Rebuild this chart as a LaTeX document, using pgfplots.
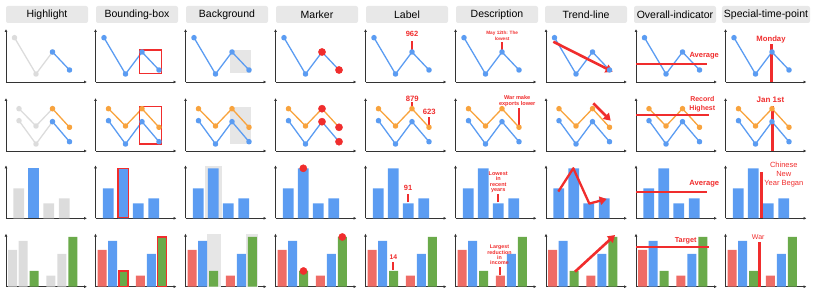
\documentclass[border=0pt]{standalone}
\usepackage{fontspec}
\setmainfont{Liberation Sans}
\usepackage{pgfplots}
\pgfplotsset{compat=1.18}
\usetikzlibrary{arrows.meta}
\definecolor{cblue}{HTML}{5B9CF2}
\definecolor{corange}{HTML}{F8A33D}
\definecolor{cgray}{HTML}{DCDCDC}
\definecolor{cbg}{HTML}{E6E6E6}
\definecolor{cred}{HTML}{F02D2D}
\definecolor{cbred}{HTML}{EF6C66}
\definecolor{cgreen}{HTML}{6AAA4A}
\definecolor{hdrgray}{HTML}{E8E8E8}
\newcommand{\fs}[2]{\fontsize{#1}{#2}\selectfont}
\pgfplotsset{
 cell/.style={scale only axis, width=81pt, height=53pt, xmin=0, xmax=81, ymin=0, ymax=53,
   axis x line=bottom, axis y line=left, ticks=none, clip=false, anchor=south west,
   axis line style={line width=0.9pt, black!80, -{Latex[length=3pt,width=3pt]}}},
 ln/.style={color=#1, line width=1.3pt, line join=round, mark=*, mark size=2.1pt, mark options={draw=none, fill=#1}},
 b3/.style={ybar, bar shift=0pt, bar width=10.8, fill=#1, draw=none, mark=none},
 b4/.style={ybar, bar shift=0pt, bar width=9, fill=#1, draw=none, mark=none},
 rmark/.style={only marks, mark=*, mark size=3.6pt, color=cred, mark options={draw=none, fill=cred}},
 aline/.style={cred, line width=2pt, mark=none},
 vline/.style={cred, line width=2.3pt, mark=none},
 hline/.style={cred, line width=2pt, mark=none},
 box/.style={draw=cred, line width=1.2pt, fill=none, mark=none},
 bg/.style={fill=cbg, draw=none, mark=none},
 arr/.style={cred, line width=2.6pt, mark=none, line join=round, -{Triangle[length=7pt,width=8.5pt]}},
}
\tikzset{ann/.style={text=cred, inner sep=0pt, align=center}}
\begin{document}
\begin{tikzpicture}
\useasboundingbox (0pt,0pt) rectangle (814pt,297pt);
\tikzset{hdr/.style={fill=hdrgray, rounded corners=2pt, minimum width=82pt, minimum height=17pt, inner xsep=2pt, inner ysep=0pt, font=\fs{10.5}{12}}}
\node[hdr] at (47pt,282.5pt) {Highlight};
\node[hdr] at (137pt,282.5pt) {Bounding-box};
\node[hdr] at (227pt,282.5pt) {Background};
\node[hdr] at (317pt,282.5pt) {Marker};
\node[hdr] at (407pt,282.5pt) {Label};
\node[hdr] at (497pt,282.5pt) {Description};
\node[hdr] at (586pt,282.5pt) {Trend-line};
\node[hdr] at (675pt,282.5pt) {Overall-indicator};
\node[hdr] at (766pt,282.5pt) {Special-time-point};

%% ROW 1
\begin{axis}[cell, at={(6pt,215pt)}]
\addplot[ln=cgray] coordinates {(8.5,44.3) (30,8) (46.5,30)};
\addplot[ln=cblue] coordinates {(46.5,30) (63.5,12)};
\end{axis}
\begin{axis}[cell, at={(95.5pt,215pt)}]
\addplot[ln=cblue] coordinates {(8.5,44.3) (30,8) (46.5,30) (63.5,12)};
\addplot[box] coordinates {(44.3,8.7) (65.7,8.7) (65.7,32) (44.3,32)} -- cycle;
\end{axis}
\begin{axis}[cell, at={(185.5pt,215pt)}]
\addplot[bg] coordinates {(44,9.3) (65,9.3) (65,32) (44,32)} -- cycle;
\addplot[ln=cblue] coordinates {(8.5,44.3) (30,8) (46.5,30) (63.5,12)};
\end{axis}
\begin{axis}[cell, at={(275.5pt,215pt)}]
\addplot[ln=cblue] coordinates {(8.5,44.3) (30,8) (46.5,30) (63.5,12)};
\addplot[rmark] coordinates {(46.5,30) (63.5,12)};
\end{axis}
\begin{axis}[cell, at={(365.5pt,215pt)}]
\addplot[ln=cblue] coordinates {(8.5,44.3) (30,8) (46.5,30) (63.5,12)};
\addplot[aline] coordinates {(46.5,32) (46.5,41)};
\node[ann, font=\fs{7.5}{9}\bfseries] at (axis cs:46.5,47.7) {962};
\end{axis}
\begin{axis}[cell, at={(455.5pt,215pt)}]
\addplot[ln=cblue] coordinates {(8.5,44.3) (30,8) (46.5,30) (63.5,12)};
\addplot[aline] coordinates {(46.5,32) (46.5,40.3)};
\node[ann, font=\fs{4.7}{5.7}\bfseries] at (axis cs:46.7,45.85) {May 12th: The\\lowest};
\end{axis}
\begin{axis}[cell, at={(546pt,215pt)}]
\addplot[ln=cblue] coordinates {(8.5,44.3) (30,8) (46.5,30) (63.5,12)};
\addplot[arr] coordinates {(7.3,40.3) (66.7,10.3)};
\end{axis}
\begin{axis}[cell, at={(636pt,215pt)}]
\addplot[ln=cblue] coordinates {(8.5,44.3) (30,8) (46.5,30) (63.5,12)};
\addplot[hline] coordinates {(0,18) (70.7,18)};
\node[ann, font=\fs{7.5}{9}\bfseries] at (axis cs:68.2,26) {Average};
\end{axis}
\begin{axis}[cell, at={(725.5pt,215pt)}]
\addplot[ln=cblue] coordinates {(8.5,44.3) (30,8) (46.5,30) (63.5,12)};
\addplot[vline] coordinates {(46,0) (46,37.7)};
\node[ann, font=\fs{7.7}{9}\bfseries] at (axis cs:45.5,42.7) {Monday};
\end{axis}

%% ROW 2
\begin{axis}[cell, at={(6pt,146pt)}]
\addplot[ln=cgray] coordinates {(13,42.3) (30,25) (46.5,42.3)};
\addplot[ln=cgray] coordinates {(13,30.3) (30,7) (46.5,29.3)};
\addplot[ln=corange] coordinates {(46.5,42.3) (63.5,23.7)};
\addplot[ln=cblue] coordinates {(46.5,29.3) (63.5,9.3)};
\end{axis}
\begin{axis}[cell, at={(95.5pt,146pt)}]
\addplot[ln=corange] coordinates {(13,42.3) (30,25) (46.5,42.3) (63.5,23.7)};
\addplot[ln=cblue] coordinates {(13,30.3) (30,7) (46.5,29.3) (63.5,9.3)};
\addplot[box] coordinates {(44.3,7) (66.3,7) (66.3,44.3) (44.3,44.3)} -- cycle;
\end{axis}
\begin{axis}[cell, at={(185.5pt,146pt)}]
\addplot[bg] coordinates {(44,7) (65,7) (65,43.7) (44,43.7)} -- cycle;
\addplot[ln=corange] coordinates {(13,42.3) (30,25) (46.5,42.3) (63.5,23.7)};
\addplot[ln=cblue] coordinates {(13,30.3) (30,7) (46.5,29.3) (63.5,9.3)};
\end{axis}
\begin{axis}[cell, at={(275.5pt,146pt)}]
\addplot[ln=corange] coordinates {(13,42.3) (30,25) (46.5,42.3) (63.5,23.7)};
\addplot[ln=cblue] coordinates {(13,30.3) (30,7) (46.5,29.3) (63.5,9.3)};
\addplot[rmark] coordinates {(46.5,42.3) (63.5,23.7) (46.5,29.3) (63.5,9.3)};
\end{axis}
\begin{axis}[cell, at={(365.5pt,146pt)}]
\addplot[ln=corange] coordinates {(13,42.3) (30,25) (46.5,42.3) (63.5,23.7)};
\addplot[ln=cblue] coordinates {(13,30.3) (30,7) (46.5,29.3) (63.5,9.3)};
\addplot[aline] coordinates {(46.5,44) (46.5,48.7)};
\addplot[aline] coordinates {(63.7,25.5) (63.7,34.3)};
\node[ann, font=\fs{7.7}{9}\bfseries] at (axis cs:46.8,52.3) {879};
\node[ann, font=\fs{7.7}{9}\bfseries] at (axis cs:63.7,38.7) {623};
\end{axis}
\begin{axis}[cell, at={(455.5pt,146pt)}]
\addplot[ln=corange] coordinates {(13,42.3) (30,25) (46.5,42.3) (63.5,23.7)};
\addplot[ln=cblue] coordinates {(13,30.3) (30,7) (46.5,29.3) (63.5,9.3)};
\addplot[aline] coordinates {(63,25) (63,43.3)};
\node[ann, font=\fs{5.6}{5.7}\bfseries] at (axis cs:61.7,49.85) {War make\\exports lower};
\end{axis}
\begin{axis}[cell, at={(546pt,146pt)}]
\addplot[ln=corange] coordinates {(13,42.3) (30,25) (46.5,42.3) (63.5,23.7)};
\addplot[ln=cblue] coordinates {(13,30.3) (30,7) (46.5,29.3) (63.5,9.3)};
\addplot[arr] coordinates {(47.3,47.7) (64.7,30.3)};
\end{axis}
\begin{axis}[cell, at={(636pt,146pt)}]
\addplot[ln=corange] coordinates {(13,42.3) (30,25) (46.5,42.3) (63.5,23.7)};
\addplot[ln=cblue] coordinates {(13,30.3) (30,7) (46.5,29.3) (63.5,9.3)};
\addplot[hline] coordinates {(0,36) (73,36)};
\node[ann, font=\fs{7}{8.3}\bfseries] at (axis cs:66.3,46.85) {Record\\Highest};
\end{axis}
\begin{axis}[cell, at={(725.5pt,146pt)}]
\addplot[ln=corange] coordinates {(13,42.3) (30,25) (46.5,42.3) (63.5,23.7)};
\addplot[ln=cblue] coordinates {(13,30.3) (30,7) (46.5,29.3) (63.5,9.3)};
\addplot[vline] coordinates {(47,0) (47,45)};
\node[ann, font=\fs{8}{9}\bfseries] at (axis cs:45,51) {Jan 1st};
\end{axis}

%% ROW 3
\begin{axis}[cell, at={(6pt,78.7pt)}]
\addplot[b3=cgray] coordinates {(12.7,30) (42.8,15) (58.3,20)};
\addplot[b3=cblue] coordinates {(27.8,50)};
\end{axis}
\begin{axis}[cell, at={(95.5pt,78.7pt)}]
\addplot[b3=cblue] coordinates {(12.7,30) (27.8,50) (42.8,15) (58.3,20)};
\addplot[box] coordinates {(22.4,0.4) (33.2,0.4) (33.2,50) (22.4,50)} -- cycle;
\end{axis}
\begin{axis}[cell, at={(185.5pt,78.7pt)}]
\addplot[bg] coordinates {(19,0) (36.7,0) (36.7,52.5) (19,52.5)} -- cycle;
\addplot[b3=cblue] coordinates {(12.7,30) (27.8,50) (42.8,15) (58.3,20)};
\end{axis}
\begin{axis}[cell, at={(275.5pt,78.7pt)}]
\addplot[b3=cblue] coordinates {(12.7,30) (27.8,50) (42.8,15) (58.3,20)};
\addplot[rmark] coordinates {(27.8,50)};
\end{axis}
\begin{axis}[cell, at={(365.5pt,78.7pt)}]
\addplot[b3=cblue] coordinates {(12.7,30) (27.8,50) (42.8,15) (58.3,20)};
\addplot[aline] coordinates {(42.5,16) (42.5,24.3)};
\node[ann, font=\fs{7.5}{9}\bfseries] at (axis cs:42.5,30) {91};
\end{axis}
\begin{axis}[cell, at={(455.5pt,78.7pt)}]
\addplot[b3=cblue] coordinates {(12.7,30) (27.8,50) (42.8,15) (58.3,20)};
\addplot[aline] coordinates {(42.3,16) (42.3,24)};
\node[ann, font=\fs{5.5}{5.4}\bfseries] at (axis cs:42.7,36.3) {Lowest\\in\\recent\\years};
\end{axis}
\begin{axis}[cell, at={(546pt,78.7pt)}]
\addplot[b3=cblue] coordinates {(12.7,30) (27.8,50) (42.8,15) (58.3,20)};
\addplot[arr, line width=2.3pt] coordinates {(12.3,26.7) (27.3,50) (43.3,14.7) (60.7,19.3)};
\end{axis}
\begin{axis}[cell, at={(636pt,78.7pt)}]
\addplot[b3=cblue] coordinates {(12.7,30) (27.8,50) (42.8,15) (58.3,20)};
\addplot[hline] coordinates {(0,26) (70.7,26)};
\node[ann, font=\fs{7.6}{9}\bfseries] at (axis cs:68.3,34.3) {Average};
\end{axis}
\begin{axis}[cell, at={(725.5pt,78.7pt)}]
\addplot[b3=cblue] coordinates {(12.7,30) (27.8,50) (42.8,15) (58.3,20)};
\addplot[vline] coordinates {(36,0) (36,46.7)};
\node[ann, font=\fs{7.5}{8.6}] at (axis cs:58.3,43.8) {Chinese\\New\\Year Began};
\end{axis}

%% ROW 4
\begin{axis}[cell, at={(6pt,10.3pt)}]
\addplot[b4=cgray] coordinates {(6.6,36.7) (17.2,45.7) (44.8,11) (55.8,32.7)};
\addplot[b4=cgreen] coordinates {(28,15.7) (66.8,49.7)};
\end{axis}
\begin{axis}[cell, at={(95.5pt,10.3pt)}]
\addplot[b4=cbred] coordinates {(6.6,36.7) (44.8,11)};
\addplot[b4=cblue] coordinates {(17.2,45.7) (55.8,32.7)};
\addplot[b4=cgreen] coordinates {(28,15.7) (66.8,49.7)};
\addplot[box] coordinates {(23.5,0.4) (32.5,0.4) (32.5,15.7) (23.5,15.7)} -- cycle;
\addplot[box] coordinates {(62.3,0.4) (71.3,0.4) (71.3,49.7) (62.3,49.7)} -- cycle;
\end{axis}
\begin{axis}[cell, at={(185.5pt,10.3pt)}]
\addplot[bg] coordinates {(21.7,0) (35,0) (35,53) (21.7,53)} -- cycle;
\addplot[bg] coordinates {(60,0) (72.7,0) (72.7,53) (60,53)} -- cycle;
\addplot[b4=cbred] coordinates {(6.6,36.7) (44.8,11)};
\addplot[b4=cblue] coordinates {(17.2,45.7) (55.8,32.7)};
\addplot[b4=cgreen] coordinates {(28,15.7) (66.8,49.7)};
\end{axis}
\begin{axis}[cell, at={(275.5pt,10.3pt)}]
\addplot[b4=cbred] coordinates {(6.6,36.7) (44.8,11)};
\addplot[b4=cblue] coordinates {(17.2,45.7) (55.8,32.7)};
\addplot[b4=cgreen] coordinates {(28,15.7) (66.8,49.7)};
\addplot[rmark] coordinates {(28,15.7) (66.8,49.7)};
\end{axis}
\begin{axis}[cell, at={(365.5pt,10.3pt)}]
\addplot[b4=cbred] coordinates {(6.6,36.7) (44.8,11)};
\addplot[b4=cblue] coordinates {(17.2,45.7) (55.8,32.7)};
\addplot[b4=cgreen] coordinates {(28,15.7) (66.8,49.7)};
\addplot[aline] coordinates {(27.8,16.5) (27.8,24.3)};
\node[ann, font=\fs{6.8}{8}\bfseries] at (axis cs:27.8,30) {14};
\end{axis}
\begin{axis}[cell, at={(455.5pt,10.3pt)}]
\addplot[b4=cbred] coordinates {(6.6,36.7) (44.8,11)};
\addplot[b4=cblue] coordinates {(17.2,45.7) (55.8,32.7)};
\addplot[b4=cgreen] coordinates {(28,15.7) (66.8,49.7)};
\addplot[aline] coordinates {(44.3,11.5) (44.3,19.3)};
\node[ann, font=\fs{5.3}{5.3}\bfseries] at (axis cs:44,31.75) {Largest\\reduction\\in\\income};
\end{axis}
\begin{axis}[cell, at={(546pt,10.3pt)}]
\addplot[b4=cbred] coordinates {(6.6,36.7) (44.8,11)};
\addplot[b4=cblue] coordinates {(17.2,45.7) (55.8,32.7)};
\addplot[b4=cgreen] coordinates {(28,15.7) (66.8,49.7)};
\addplot[arr] coordinates {(29,15) (69,51.7)};
\end{axis}
\begin{axis}[cell, at={(636pt,10.3pt)}]
\addplot[b4=cbred] coordinates {(6.6,36.7) (44.8,11)};
\addplot[b4=cblue] coordinates {(17.2,45.7) (55.8,32.7)};
\addplot[b4=cgreen] coordinates {(28,15.7) (66.8,49.7)};
\addplot[hline] coordinates {(0,39.3) (73,39.3)};
\node[ann, font=\fs{7.3}{9}\bfseries] at (axis cs:49.7,46) {Target};
\end{axis}
\begin{axis}[cell, at={(725.5pt,10.3pt)}]
\addplot[b4=cbred] coordinates {(6.6,36.7) (44.8,11)};
\addplot[b4=cblue] coordinates {(17.2,45.7) (55.8,32.7)};
\addplot[b4=cgreen] coordinates {(28,15.7) (66.8,49.7)};
\addplot[vline] coordinates {(34,0) (34,45)};
\node[ann, font=\fs{7}{8}] at (axis cs:32.7,50) {War};
\end{axis}
\end{tikzpicture}
\end{document}
